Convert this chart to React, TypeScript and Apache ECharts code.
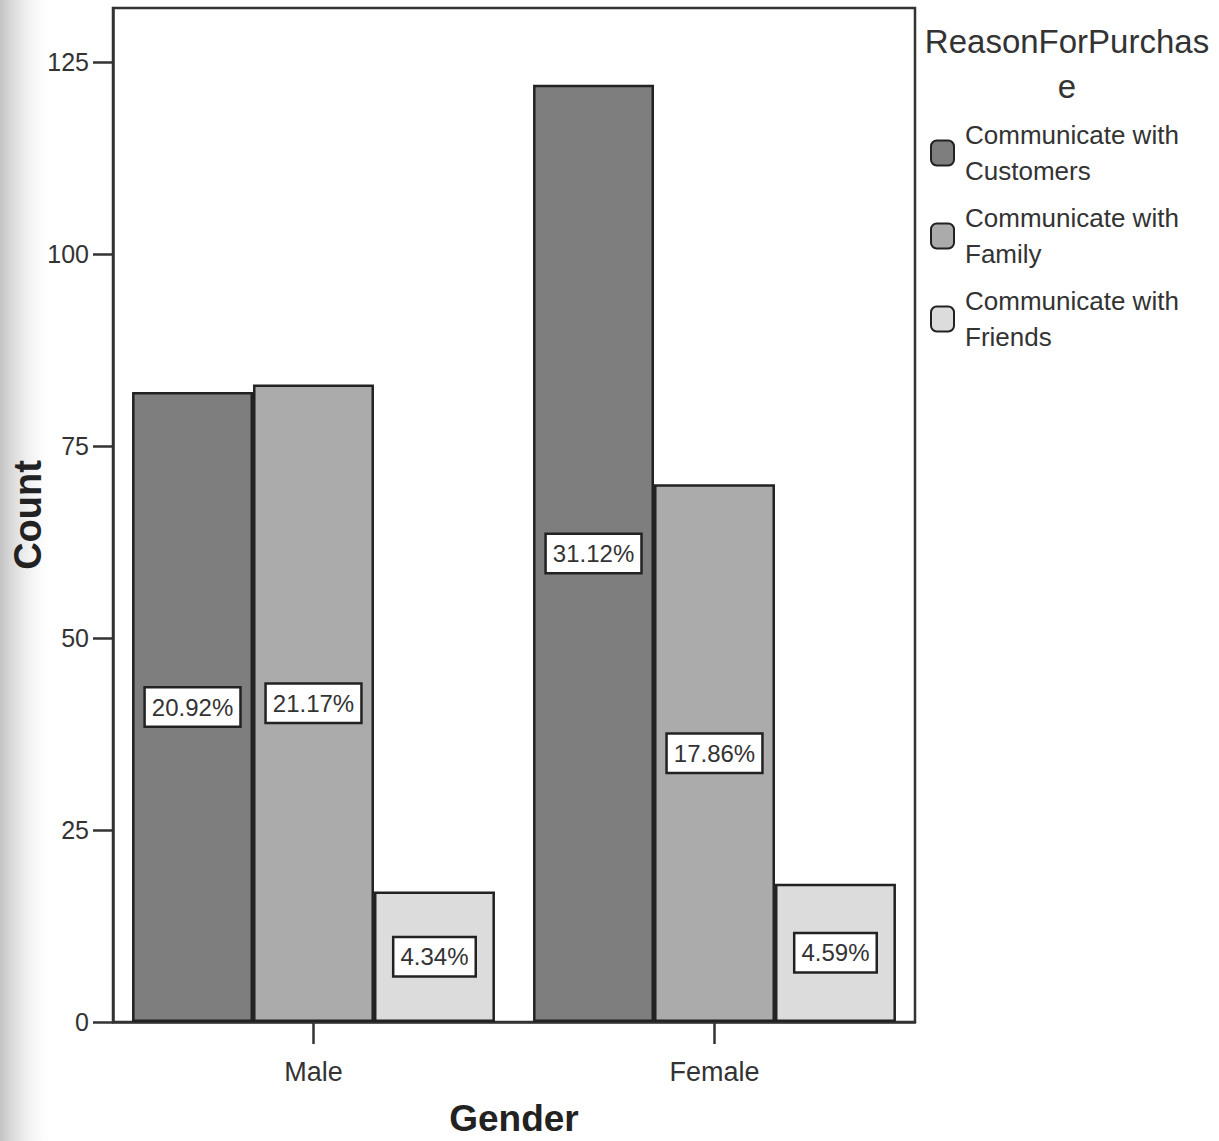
import React, { useEffect, useRef } from "react";
import * as echarts from "echarts";

const categories = ["Male", "Female"];
const seriesNames = [
  "Communicate with\nCustomers",
  "Communicate with\nFamily",
  "Communicate with\nFriends",
];
const customersCounts = [82, 122];
const familyCounts = [83, 70];
const friendsCounts = [17, 18];
const yTickValues = [0, 25, 50, 75, 100, 125];
const barColors = ["#7e7e7e", "#ababab", "#dcdcdc"];

const TXT_FONT = "'Liberation Sans', Arial, Helvetica, sans-serif";

export default function App() {
  const ref = useRef<HTMLDivElement>(null);

  useEffect(() => {
    if (!ref.current) return;
    const chart = echarts.init(ref.current, undefined, { renderer: "svg" });
    const all = [customersCounts, familyCounts, friendsCounts];
    const total = all.reduce((s, arr) => s + arr.reduce((a, b) => a + b, 0), 0);

    const series = all.map((data, i) => ({
      name: seriesNames[i],
      type: "bar",
      data,
      barGap: "0%",
      barCategoryGap: "9.5%",
      itemStyle: { color: barColors[i], borderColor: "#222", borderWidth: 2.5 },
      label: {
        show: true,
        position: "inside",
        formatter: (p: any) => ((p.value / total) * 100).toFixed(2) + "%",
        fontFamily: TXT_FONT,
        fontSize: 24,
        lineHeight: 30,
        color: "#333",
        backgroundColor: "#ffffff",
        borderColor: "#222",
        borderWidth: 2.5,
        padding: [4, 6, 3, 6],
      },
    }));

    chart.setOption({
      animation: false,
      backgroundColor: "#ffffff",
      textStyle: { fontFamily: TXT_FONT },
      title: {
        text: "ReasonForPurchas\ne",
        left: 1062,
        top: 14,
        textAlign: "center",
        textStyle: {
          fontFamily: TXT_FONT,
          fontSize: 33,
          fontWeight: "normal",
          lineHeight: 45,
          color: "#333",
        },
      },
      legend: {
        orient: "vertical",
        left: 925,
        top: 112,
        itemWidth: 23,
        itemHeight: 25,
        itemGap: 11,
        icon: "roundRect",
        textStyle: {
          fontFamily: TXT_FONT,
          fontSize: 26,
          lineHeight: 36,
          color: "#333",
          padding: [0, 0, 0, 6],
        },
        data: seriesNames,
      },
      graphic: [
        {
          type: "rect",
          z: -10,
          silent: true,
          shape: { x: 0, y: 0, width: 55, height: 1141 },
          style: {
            fill: new echarts.graphic.LinearGradient(0, 0, 1, 0, [
              { offset: 0, color: "rgba(195,195,195,1)" },
              { offset: 0.4, color: "rgba(228,228,228,0.8)" },
              { offset: 1, color: "rgba(255,255,255,0)" },
            ]),
          },
        },
      ],
      grid: {
        left: 113,
        right: 304,
        top: 8,
        bottom: 119,
        outerBoundsMode: "none",
        containLabel: false,
        show: true,
        backgroundColor: "#ffffff",
        borderColor: "#333",
        borderWidth: 2.5,
      },
      xAxis: {
        type: "category",
        data: categories,
        name: "Gender",
        nameLocation: "middle",
        nameGap: 78,
        nameTextStyle: {
          fontFamily: TXT_FONT,
          fontSize: 37,
          fontWeight: "bold",
          color: "#222",
        },
        axisLine: { show: true, lineStyle: { color: "#333", width: 2.5 } },
        axisTick: {
          show: true,
          alignWithLabel: true,
          length: 22,
          lineStyle: { color: "#333", width: 2.5 },
        },
        axisLabel: { fontFamily: TXT_FONT, fontSize: 27, color: "#333", margin: 36 },
      },
      yAxis: {
        type: "value",
        min: 0,
        max: 132,
        interval: 25,
        name: "Count",
        nameLocation: "middle",
        nameGap: 66,
        nameMoveOverlap: false,
        nameRotate: 90,
        nameTextStyle: {
          fontFamily: TXT_FONT,
          fontSize: 38,
          fontWeight: "bold",
          color: "#222",
        },
        splitLine: { show: false },
        axisLine: { show: true, lineStyle: { color: "#333", width: 2.5 } },
        axisTick: {
          show: true,
          length: 20,
          customValues: yTickValues,
          lineStyle: { color: "#333", width: 2.5 },
        },
        axisLabel: {
          fontFamily: TXT_FONT,
          fontSize: 25,
          color: "#333",
          margin: 24,
          customValues: yTickValues,
        },
      },
      series,
    });
    return () => chart.dispose();
  }, []);

  return (
    <div
      ref={ref}
      style={{ position: "fixed", left: 0, top: 0, width: 1219, height: 1141 }}
    />
  );
}
